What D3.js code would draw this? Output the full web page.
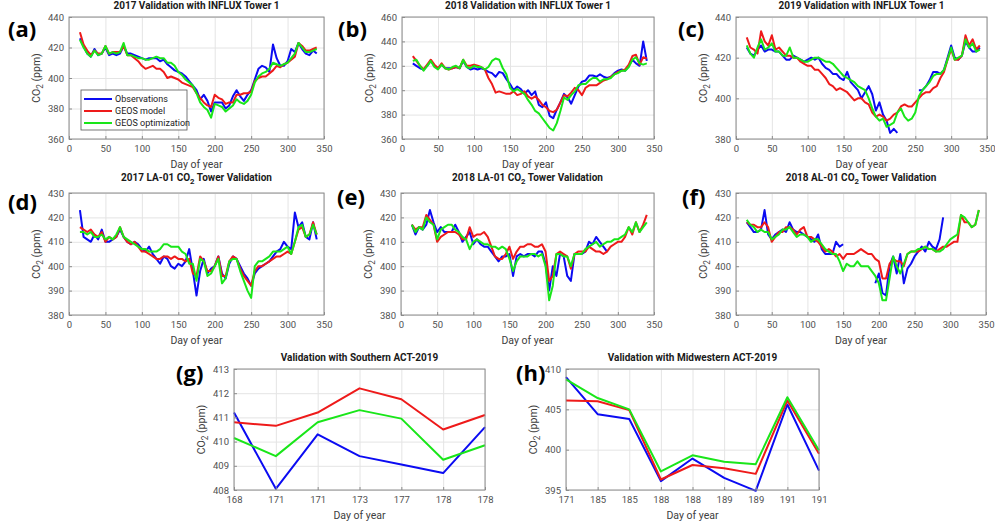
<!DOCTYPE html>
<html>
<head>
<meta charset="utf-8">
<script src="https://cdn.jsdelivr.net/npm/d3@7"></script>
<style>
  body { margin: 0; background: #fff; }
  svg { font-family: Roboto, "Liberation Sans", sans-serif; }
</style>
</head>
<body>
<svg id="chart" width="995" height="523"></svg>
<script>
// ---- data ----
const towerDays = [15,20,25,30,35,40,45,50,55,60,
  65,70,75,80,85,90,95,100,105,110,
  115,120,125,130,135,140,145,150,155,160,
  165,170,175,180,185,190,195,200,205,210,
  215,220,225,230,235,240,245,250,255,260,
  265,270,275,280,285,290,295,300,305,310,
  315,320,325,330,335,340];

// (a) 2017 INFLUX Tower 1
const a_obs = [426,421,416,414,419,415,416,420,415,416,
  415,416,421,416,416,415,414,413,412,413,
  413,413,411,412,409,407,405,404,403,401,
  398,395,392,386,389,385,378,384,384,384,
  380,382,388,392,388,385,389,392,399,406,
  408,407,404,422,413,408,408,411,419,417,
  423,419,416,415,418,416];
const a_geos = [430,422,418,415,418,416,416,421,416,417,
  417,417,421,415,415,413,411,408,406,407,
  408,406,406,404,400,401,400,399,397,396,
  395,394,390,387,384,382,381,389,387,386,
  383,384,384,389,389,390,390,391,398,400,
  401,401,403,405,408,407,409,410,412,414,
  423,421,418,418,419,420];
const a_opt = [425,420,416,414,418,415,416,421,416,417,
  416,417,423,415,415,414,413,413,412,412,
  413,414,413,413,410,410,408,404,402,399,
  397,395,390,384,381,379,374,383,382,381,
  378,380,382,386,384,383,385,389,397,401,
  403,404,406,410,409,408,409,410,413,416,
  423,420,417,417,418,419];

// (b) 2018 INFLUX Tower 1
const b_obs = [422,420,418,417,420,424,420,418,421,418,
  418,418,419,418,424,419,417,418,417,418,
  417,415,414,411,415,414,409,405,400,403,
  401,397,400,396,399,388,386,390,379,377,
  384,390,397,394,389,396,403,407,408,412,
  412,411,413,411,410,411,414,416,417,416,
  420,425,422,420,440,424];
const b_geos = [428,424,420,417,421,425,421,418,422,418,
  417,418,419,418,425,420,420,421,420,419,
  417,410,405,398,399,398,397,397,399,396,
  397,399,395,393,395,392,388,386,383,382,
  384,390,396,395,398,402,400,396,402,404,
  404,404,406,408,409,411,413,415,416,417,
  421,428,429,421,427,426];
const b_opt = [424,425,420,416,420,424,419,417,421,418,
  417,419,420,418,425,419,418,420,419,419,
  417,419,424,426,425,418,413,402,399,401,
  399,397,392,388,383,381,377,373,369,367,
  373,383,394,392,396,399,404,405,405,408,
  410,410,407,409,409,410,413,414,416,416,
  419,425,427,422,421,422];

// (c) 2019 INFLUX Tower 1
const c_obs = [425,422,421,424,426,423,424,424,423,423,
  421,419,419,421,420,419,418,419,420,419,
  420,417,415,414,412,412,410,409,413,408,
  406,404,400,403,406,402,394,398,392,389,
  383,385,383,null,null,null,null,null,404,404,
  406,409,413,413,412,414,420,426,420,419,
  421,428,425,423,423,425];
const c_geos = [430,425,424,422,433,428,426,431,424,425,
  423,421,421,420,420,418,417,416,416,414,
  414,412,410,407,406,404,405,404,403,401,
  399,400,400,398,397,393,391,392,391,389,
  390,392,393,396,397,396,396,398,400,402,
  403,403,405,406,410,413,419,424,419,419,
  421,431,426,429,424,426];
const c_opt = [426,422,420,425,429,424,425,427,423,423,
  421,421,425,420,420,419,418,418,419,420,
  420,419,418,418,417,415,413,411,410,409,
  408,406,405,404,400,395,391,389,390,386,
  387,388,393,395,391,389,390,393,401,404,
  406,408,411,412,412,414,419,425,419,420,
  421,429,425,427,423,424];

// (d) 2017 LA-01
const d_obs = [423,412,411,410,413,411,415,410,410,411,
  412,415,412,410,409,410,409,407,406,408,
  405,403,401,404,403,400,399,401,400,402,
  407,398,388,398,403,397,399,400,404,397,
  395,401,404,403,400,397,395,392,397,399,
  400,401,402,404,406,407,410,408,407,422,
  416,418,412,411,418,411];
const d_geos = [416,415,414,415,413,412,414,410,412,411,
  412,416,412,410,409,410,408,406,406,405,
  404,403,403,404,404,403,404,403,403,402,
  403,397,396,404,402,398,398,400,404,396,
  396,402,404,403,399,396,394,392,398,400,
  400,401,402,403,404,404,405,406,405,410,
  415,416,412,413,418,413];
const d_opt = [414,414,413,414,412,412,413,411,412,411,
  413,416,412,411,410,409,408,407,407,406,
  406,406,407,409,409,408,408,408,406,405,
  401,401,394,403,402,396,397,400,403,393,
  395,402,403,403,398,394,390,387,400,402,
  402,403,404,406,406,406,407,408,405,410,
  416,417,412,413,417,413];

// (e) 2018 LA-01
const e_obs = [417,413,416,415,417,423,418,414,416,414,
  414,414,417,414,410,412,414,409,411,409,
  408,408,406,404,402,404,404,405,396,404,
  405,404,405,405,404,406,406,401,390,400,
  396,405,404,396,394,405,405,405,406,410,
  409,412,410,408,406,null,null,null,null,null,
  null,null,null,null,null,null];
const e_geos = [417,415,416,416,421,419,417,410,412,413,
  414,414,414,413,411,411,416,412,413,413,
  414,412,408,404,403,403,405,408,403,406,
  408,408,409,409,408,408,409,406,394,396,
  405,406,405,404,399,405,406,406,406,408,
  407,406,406,405,406,408,409,410,410,412,
  416,413,418,414,417,421];
const e_opt = [417,414,416,415,420,418,417,411,415,416,
  417,417,415,414,412,411,407,410,411,410,
  409,409,408,408,407,408,407,403,398,402,
  404,404,404,405,405,404,405,400,386,392,
  405,405,404,404,400,405,405,405,407,408,
  409,410,408,409,410,410,411,411,412,413,
  416,414,418,414,416,418];

// (f) 2018 AL-01
const f_obs = [418,416,414,414,415,423,413,411,413,414,
  415,414,418,415,414,414,413,412,411,410,
  413,407,405,405,405,410,408,409,null,null,
  null,null,null,null,null,null,393,397,389,388,
  400,404,397,405,393,399,401,404,406,408,
  406,410,408,407,411,420,null,null,null,null,
  null,null,null,null,null,null];
const f_geos = [418,417,417,416,416,418,416,410,412,414,
  414,416,416,415,413,415,416,412,412,411,
  410,408,406,407,406,404,405,403,405,405,
  405,406,407,406,405,405,403,402,395,395,
  401,403,402,402,400,405,406,406,406,407,
  408,407,407,406,407,408,408,409,410,410,
  421,418,418,416,417,423];
const f_opt = [419,417,416,414,415,414,414,411,412,413,
  415,415,416,414,412,413,413,412,410,411,
  411,409,407,406,405,405,402,398,401,400,
  400,402,400,400,400,398,396,393,386,386,
  395,404,400,397,401,405,406,406,407,407,
  408,407,407,406,406,407,409,411,412,413,
  421,420,418,416,417,423];

// (g) Southern ACT-2019
const g_days = ['168','171','171','173','177','178','178'];
const g_obs  = [411.2, 408.05, 410.3, 409.4, 409.05, 408.7, 410.6];
const g_geos = [410.8, 410.65, 411.2, 412.2, 411.75, 410.5, 411.1];
const g_opt  = [410.15, 409.4, 410.8, 411.3, 410.95, 409.25, 409.85];

// (h) Midwestern ACT-2019
const h_days = ['171','185','185','188','188','189','189','191','191'];
const h_obs  = [409.0, 404.4, 403.8, 396.1, 398.9, 396.5, 394.9, 405.6, 397.4];
const h_geos = [406.1, 406.0, 404.9, 396.3, 398.1, 397.7, 397.0, 406.1, 399.5];
const h_opt  = [408.7, 406.4, 405.0, 397.3, 399.3, 398.5, 398.2, 406.5, 399.9];

const seriesNames = ['Observations', 'GEOS model', 'GEOS optimization'];
const seriesColors = ['#0b0bf2', '#ee1a1a', '#19e619'];

// ---- layout ----
const panels = [
  { tag: '(a)', title: '2017 Validation with INFLUX Tower 1', box: [69, 17, 324, 139], yDomain: [360, 440], yStep: 20,
    days: towerDays, data: [a_obs, a_geos, a_opt], label: [8, 37], titleDy: -8, legend: true },
  { tag: '(b)', title: '2018 Validation with INFLUX Tower 1', box: [402, 17, 654, 139], yDomain: [360, 460], yStep: 20,
    days: towerDays, data: [b_obs, b_geos, b_opt], label: [338, 37], titleDy: -8 },
  { tag: '(c)', title: '2019 Validation with INFLUX Tower 1', box: [736, 17, 987, 139], yDomain: [380, 440], yStep: 20,
    days: towerDays, data: [c_obs, c_geos, c_opt], label: [678, 37], titleDy: -8 },
  { tag: '(d)', title: '2017 LA-01 CO2 Tower Validation', box: [69, 193, 324, 315], yDomain: [380, 430], yStep: 10,
    days: towerDays, data: [d_obs, d_geos, d_opt], label: [8, 210], titleDy: -12 },
  { tag: '(e)', title: '2018 LA-01 CO2 Tower Validation', box: [401, 193, 654, 315], yDomain: [380, 430], yStep: 10,
    days: towerDays, data: [e_obs, e_geos, e_opt], label: [337, 205], titleDy: -12 },
  { tag: '(f)', title: '2018 AL-01 CO2 Tower Validation', box: [736, 193, 986, 315], yDomain: [380, 430], yStep: 10,
    days: towerDays, data: [f_obs, f_geos, f_opt], label: [682, 205], titleDy: -12 },
  { tag: '(g)', title: 'Validation with Southern ACT-2019', box: [234, 369, 485, 490], yDomain: [408, 413], yStep: 1,
    cats: g_days, data: [g_obs, g_geos, g_opt], label: [176, 381], titleDy: -8 },
  { tag: '(h)', title: 'Validation with Midwestern ACT-2019', box: [566, 369, 819, 490], yDomain: [395, 410], yStep: 5,
    cats: h_days, data: [h_obs, h_geos, h_opt], label: [516, 381], titleDy: -8 }
];

const svg = d3.select('#chart');

// writes "CO2" with a subscript 2
function withSub(sel, str) {
  const parts = str.split('CO2');
  sel.append('tspan').text(parts[0]);
  for (let i = 1; i < parts.length; i++) {
    sel.append('tspan').text('CO');
    sel.append('tspan').attr('dy', 3).attr('font-size', '0.78em').text('2');
    sel.append('tspan').attr('dy', -3).text(parts[i]);
  }
}

function drawPanel(p) {
  const [x0, y0, x1, y1] = p.box;
  const g = svg.append('g');

  let x, xTicks, xs, fmt;
  if (p.cats) {
    xs = p.cats.map((_, i) => i);
    x = d3.scalePoint().domain(xs).range([x0, x1]);
    xTicks = xs;
    fmt = i => p.cats[i];
  } else {
    xs = p.days;
    x = d3.scaleLinear().domain([0, 350]).range([x0, x1]);
    xTicks = d3.range(0, 351, 50);
    fmt = d3.format('d');
  }
  const y = d3.scaleLinear().domain(p.yDomain).range([y1, y0]);
  const yTicks = d3.range(p.yDomain[0], p.yDomain[1] + 1e-6, p.yStep);

  // grid
  g.append('g')
    .attr('transform', `translate(0,${y1})`)
    .call(d3.axisBottom(x).tickValues(xTicks).tickSize(-(y1 - y0)).tickFormat(''))
    .call(s => { s.select('.domain').remove(); s.selectAll('line').attr('stroke', '#e4e4e4'); });
  g.append('g')
    .attr('transform', `translate(${x0},0)`)
    .call(d3.axisLeft(y).tickValues(yTicks).tickSize(-(x1 - x0)).tickFormat(''))
    .call(s => { s.select('.domain').remove(); s.selectAll('line').attr('stroke', '#e4e4e4'); });

  // series
  const line = d3.line()
    .defined(d => d[1] != null)
    .x(d => x(d[0]))
    .y(d => y(d[1]));
  p.data.forEach((vals, k) => {
    g.append('path')
      .datum(xs.map((d, i) => [d, vals[i]]))
      .attr('d', line)
      .attr('fill', 'none')
      .attr('stroke', seriesColors[k])
      .attr('stroke-width', 2)
      .attr('stroke-linejoin', 'round');
  });

  // frame
  g.append('rect')
    .attr('x', x0).attr('y', y0)
    .attr('width', x1 - x0).attr('height', y1 - y0)
    .attr('fill', 'none').attr('stroke', '#8c8c8c').attr('stroke-width', 1);

  // axes
  g.append('g')
    .attr('transform', `translate(0,${y1})`)
    .call(d3.axisBottom(x).tickValues(xTicks).tickSize(-3).tickPadding(6).tickFormat(fmt))
    .call(s => {
      s.select('.domain').remove();
      s.selectAll('line').attr('stroke', '#8c8c8c');
      s.selectAll('text').attr('fill', '#505050').attr('font-size', 9.5).attr('font-family', 'Roboto, sans-serif');
    });
  g.append('g')
    .attr('transform', `translate(${x0},0)`)
    .call(d3.axisLeft(y).tickValues(yTicks).tickSize(-3).tickPadding(5).tickFormat(d3.format('d')))
    .call(s => {
      s.select('.domain').remove();
      s.selectAll('line').attr('stroke', '#8c8c8c');
      s.selectAll('text').attr('fill', '#505050').attr('font-size', 9.5).attr('font-family', 'Roboto, sans-serif');
    });

  // axis titles
  g.append('text')
    .attr('x', (x0 + x1) / 2).attr('y', y1 + 29)
    .attr('text-anchor', 'middle')
    .attr('font-size', 10.5).attr('fill', '#404040')
    .text('Day of year');
  const yl = g.append('text')
    .attr('transform', `translate(${x0 - 29},${(y0 + y1) / 2}) rotate(-90)`)
    .attr('text-anchor', 'middle')
    .attr('font-size', 10.5).attr('fill', '#404040');
  withSub(yl, 'CO2 (ppm)');

  // title
  const t = g.append('text')
    .attr('x', (x0 + x1) / 2).attr('y', y0 + p.titleDy)
    .attr('text-anchor', 'middle')
    .attr('font-size', 10).attr('font-weight', 'bold').attr('fill', '#1a1a1a');
  withSub(t, p.title);

  // panel tag
  g.append('text')
    .attr('x', p.label[0]).attr('y', p.label[1])
    .attr('font-family', '"Open Sans", sans-serif')
    .attr('font-size', 22).attr('font-weight', 'bold').attr('fill', '#000')
    .text(p.tag);

  if (p.legend) {
    const lg = g.append('g').attr('transform', `translate(${x0 + 12},${y0 + 73})`);
    lg.append('rect').attr('width', 106).attr('height', 40)
      .attr('fill', '#fff').attr('stroke', '#555').attr('stroke-width', 0.8);
    seriesNames.forEach((name, k) => {
      const yy = 9 + k * 12;
      lg.append('line').attr('x1', 3).attr('x2', 31).attr('y1', yy).attr('y2', yy)
        .attr('stroke', seriesColors[k]).attr('stroke-width', 2);
      lg.append('text').attr('x', 34).attr('y', yy + 3.3)
        .attr('font-size', 9).attr('fill', '#222').text(name);
    });
  }
}

panels.forEach(drawPanel);
</script>
</body>
</html>
